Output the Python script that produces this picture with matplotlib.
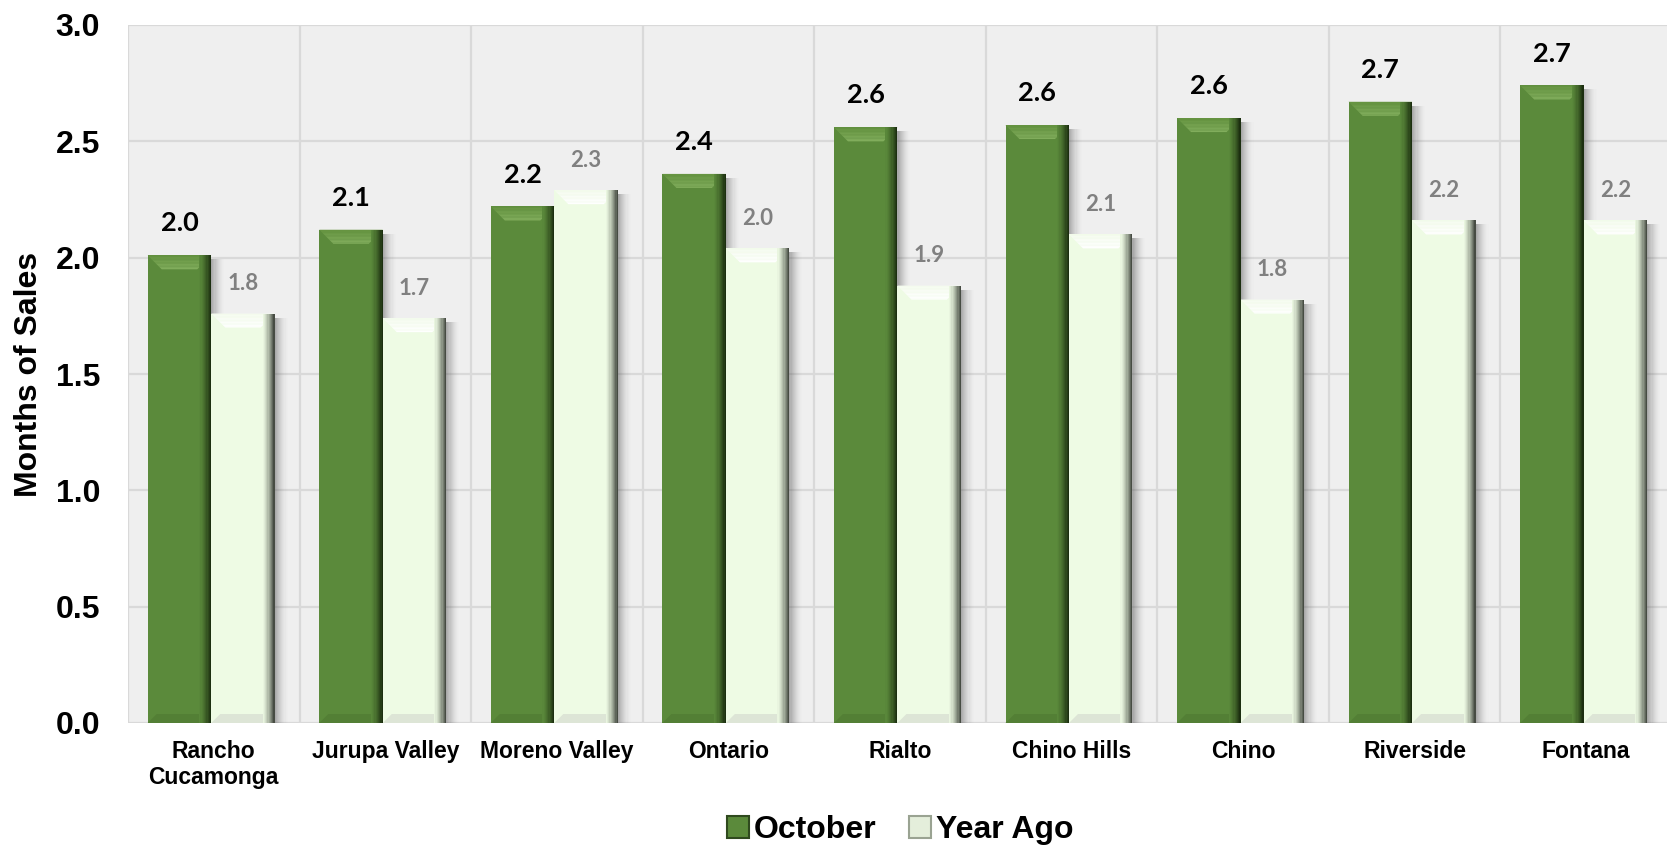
import matplotlib
matplotlib.use("Agg")
import matplotlib.pyplot as plt
import matplotlib.colors as mcolors
from matplotlib.patches import Rectangle, Polygon
import numpy as np

# months of sales by city
cities = ["Rancho\nCucamonga", "Jurupa Valley", "Moreno Valley", "Ontario", "Rialto",
          "Chino Hills", "Chino", "Riverside", "Fontana"]
october = [2.01, 2.12, 2.22, 2.36, 2.56, 2.57, 2.60, 2.67, 2.74]
year_ago = [1.76, 1.74, 2.29, 2.04, 1.88, 2.10, 1.82, 2.16, 2.16]
series_names = ["October", "Year Ago"]
y_ticks = [0.0, 0.5, 1.0, 1.5, 2.0, 2.5, 3.0]

plt.rcParams["font.family"] = ["Liberation Sans", "DejaVu Sans"]

W, H = 1667, 848
fig = plt.figure(figsize=(W / 100, H / 100), dpi=100)
ax = fig.add_axes([128 / W, 125 / H, 1544 / W, 698 / H])
ax.set_facecolor("#efefef")
ax.set_xlim(-0.5, len(cities) - 0.5)
ax.set_ylim(0, 3.0)

# size of one pixel in data units
xpx = len(cities) / 1544
ypx = 3.0 / 698

grid_col = "#d9d9d9"
for yv in y_ticks:
    ax.axhline(yv, color=grid_col, lw=1.6, zorder=0)
for i in range(len(cities) + 1):
    ax.axvline(i - 0.5, color=grid_col, lw=1.6, zorder=0)
for sp in ax.spines.values():
    sp.set_visible(False)


def blend(c1, c2, t):
    a = np.array(mcolors.to_rgb(c1))
    b = np.array(mcolors.to_rgb(c2))
    return tuple(a + (b - a) * t)


def bevel_bar(rect, face, top_col, light, dark, low):
    x0, w, h = rect.get_x(), rect.get_width(), rect.get_height()
    # soft shadow on the right
    n = 12
    sw = 13 * xpx / n
    for k in range(n):
        ax.add_patch(Rectangle((x0 + w + k * sw, 0), sw, h - 4 * ypx,
                               color="#4a4a4a", alpha=0.42 * (1 - k / n) ** 1.6,
                               lw=0, zorder=2))
    bh = 14 * ypx
    ins = 14 * xpx
    # top bevel, shaded in bands
    nb = 10
    for k in range(nb):
        f0, f1 = k / nb, (k + 1) / nb
        ya, yb = h - f0 * bh, h - f1 * bh
        ia, ib = f0 * ins, f1 * ins
        ax.add_patch(Polygon([(x0 + ia, ya), (x0 + w - ia, ya), (x0 + w - ib, yb), (x0 + ib, yb)],
                             closed=True, color=blend(top_col, light, (k + 0.5) / nb),
                             lw=0, zorder=4))
    # bottom bevel
    bb = 9 * ypx
    ax.add_patch(Polygon([(x0, 0), (x0 + w, 0), (x0 + w - 9 * xpx, bb), (x0 + 9 * xpx, bb)],
                         closed=True, color=low, lw=0, zorder=4))
    # dark right edge
    m = 10
    ew = 12 * xpx / m
    for k in range(m):
        ax.add_patch(Rectangle((x0 + w - 12 * xpx + k * ew, 0), ew, h,
                               color=blend(face, dark, ((k + 1) / m) ** 1.5),
                               lw=0, zorder=5))


x = np.arange(len(cities))
bw = 0.37
oct_face, ya_face = "#5b8a3b", "#eefbe4"
bars_oct = ax.bar(x - 0.2, october, bw, color=oct_face, lw=0, zorder=3)
bars_ya = ax.bar(x + 0.17, year_ago, bw, color=ya_face, lw=0, zorder=3)

for r in bars_oct:
    bevel_bar(r, oct_face, "#64933f", "#82ae5e", "#1c2f10", "#537f35")
for r in bars_ya:
    bevel_bar(r, ya_face, "#f4fbee", "#ffffff", "#474c43", "#dde5d6")

for r, v in zip(bars_oct, october):
    ax.annotate(f"{v:.1f}", (r.get_x() + r.get_width() / 2, v), xytext=(0, 23),
                textcoords="offset points", ha="center", va="center",
                fontsize=19.5, fontweight="bold", family="Lato", color="black", zorder=6)
for r, v in zip(bars_ya, year_ago):
    ax.annotate(f"{v:.1f}", (r.get_x() + r.get_width() / 2, v), xytext=(0, 21.5),
                textcoords="offset points", ha="center", va="center",
                fontsize=16, fontweight="bold", family="Lato", color="#808080", zorder=6)

ax.set_yticks(y_ticks)
ax.set_yticklabels([f"{t:.1f}" for t in y_ticks], fontsize=23, fontweight="bold")
ax.set_xticks(x)
ax.set_xticklabels(cities, fontsize=16.5, fontweight="bold", linespacing=1.2)
ax.tick_params(axis="y", length=0, pad=20)
ax.tick_params(axis="x", length=0, pad=12)

fig.text(29 / W, 1 - 374 / H, "Months of Sales", rotation=90, ha="center", va="center",
         fontsize=23, fontweight="bold")

handles = [Rectangle((0, 0), 1, 1, facecolor=oct_face, edgecolor="#2f4a1e", lw=1.5),
           Rectangle((0, 0), 1, 1, facecolor="#e4eedb", edgecolor="#9aa392", lw=1.5)]
fig.legend(handles, series_names, loc="center", bbox_to_anchor=(0.54, 1 - 830 / H),
           ncol=2, frameon=False, prop={"size": 23, "weight": "bold"},
           handlelength=0.7, handleheight=0.7, handletextpad=0.15, columnspacing=1.0)

fig.savefig("out.png", dpi=100)
